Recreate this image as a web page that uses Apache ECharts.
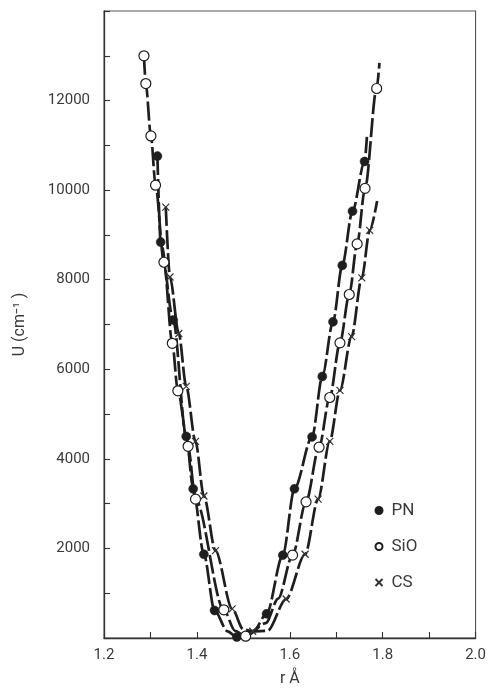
<!DOCTYPE html>
<html>
<head>
<meta charset="utf-8">
<script src="https://cdn.jsdelivr.net/npm/echarts@6/dist/echarts.min.js"></script>
<style>
html,body{margin:0;padding:0;background:#fff;}
#chart{width:489px;height:692px;}
</style>
</head>
<body>
<div id="chart"></div>
<script>
// ---- data (r in Å, U in cm^-1) ----
var seriesNames = ['PN', 'SiO', 'CS'];
var pnPoints = [[1.315,10760],[1.322,8840],[1.349,7100],[1.377,4500],[1.392,3330],[1.415,1870],[1.438,615],[1.486,20],[1.550,540],[1.585,1850],[1.610,3330],[1.648,4490],[1.670,5840],[1.693,7060],[1.713,8320],[1.735,9530],[1.761,10640]];
var sioPoints = [[1.286,13000],[1.290,12380],[1.301,11210],[1.311,10110],[1.329,8390],[1.347,6580],[1.359,5520],[1.381,4280],[1.397,3100],[1.458,630],[1.505,40],[1.606,1850],[1.635,3040],[1.663,4260],[1.686,5370],[1.708,6590],[1.728,7670],[1.745,8800],[1.762,10040],[1.787,12270]];
var csPoints = [[1.333,9620],[1.342,8060],[1.361,6800],[1.377,5620],[1.397,4390],[1.415,3170],[1.440,1950],[1.476,650],[1.520,150],[1.592,870],[1.633,1870],[1.661,3100],[1.686,4390],[1.708,5530],[1.733,6730],[1.755,8040],[1.772,9100]];
// curve positions (ends and bottom of each well)
var pnCurveExtra = [[1.466,150],[1.522,160],[1.766,11190]];
var sioCurveExtra = [[1.482,160],[1.548,330],[1.575,880],[1.793,12840]];
var csCurveExtra = [[1.500,190],[1.552,160],[1.788,9760]];
var xTicks = [1.2, 1.4, 1.6, 1.8, 2.0];
var yTicks = [2000, 4000, 6000, 8000, 10000, 12000];

function curve(points, extra) {
  return points.concat(extra).sort(function (a, b) { return a[0] - b[0]; });
}

var ink = '#1e1e1e';
var txt = '#3a3a3a';
var font = 'Roboto';

var chart = echarts.init(document.getElementById('chart'));
var lineStyle = { color: ink, width: 2.7, type: [19, 4] };

chart.setOption({
  backgroundColor: '#fff',
  animation: false,
  textStyle: { fontFamily: font },
  grid: { left: 104, right: 12, top: 11, bottom: 51, show: true, borderColor: '#555', borderWidth: 1.1, backgroundColor: 'transparent' },
  legend: {
    data: seriesNames,
    orient: 'vertical',
    left: 368,
    top: 497,
    itemWidth: 7,
    itemHeight: 7,
    itemGap: 19,
    textStyle: { fontSize: 17, color: txt, fontFamily: font, padding: [0, 0, 0, 4] }
  },
  xAxis: {
    type: 'value', min: 1.2, max: 2.0, interval: 0.2,
    name: 'r Å', nameLocation: 'middle', nameGap: 33,
    nameTextStyle: { fontSize: 16, color: txt },
    axisLine: { show: true, lineStyle: { color: '#333', width: 1.3 } },
    axisTick: { show: true, inside: true, length: 6, lineStyle: { color: '#333', width: 1.1 } },
    minorTick: { show: true, splitNumber: 2, length: 6, lineStyle: { color: '#333', width: 1.1 } },
    splitLine: { show: false },
    axisLabel: {
      fontSize: 15, color: txt, margin: 10,
      formatter: function (v) { return xTicks.indexOf(Math.round(v * 10) / 10) >= 0 ? v.toFixed(1) : ''; }
    }
  },
  yAxis: {
    type: 'value', min: 0, max: 14000, interval: 2000,
    name: 'U (cm⁻¹ )', nameLocation: 'middle', nameGap: 76, nameRotate: 90,
    nameTextStyle: { fontSize: 16, color: txt },
    axisLine: { show: true, lineStyle: { color: '#333', width: 1.3 } },
    axisTick: { show: true, inside: true, length: 6, lineStyle: { color: '#333', width: 1.1 } },
    minorTick: { show: true, splitNumber: 2, length: 6, lineStyle: { color: '#333', width: 1.1 } },
    splitLine: { show: false },
    axisLabel: {
      fontSize: 15, color: txt, margin: 14,
      formatter: function (v) { return yTicks.indexOf(v) >= 0 ? String(v) : ''; }
    }
  },
  series: [
    { name: 'PN curve', type: 'line', data: curve(pnPoints, pnCurveExtra), smooth: 0.3, smoothMonotone: 'x', showSymbol: false, lineStyle: lineStyle, z: 2 },
    { name: 'SiO curve', type: 'line', data: curve(sioPoints, sioCurveExtra), smooth: 0.3, smoothMonotone: 'x', showSymbol: false, lineStyle: lineStyle, z: 2 },
    { name: 'CS curve', type: 'line', data: curve(csPoints, csCurveExtra), smooth: 0.3, smoothMonotone: 'x', showSymbol: false, lineStyle: lineStyle, z: 2 },
    { name: 'PN', type: 'scatter', data: pnPoints, symbol: 'circle', symbolSize: 9,
      itemStyle: { color: ink, borderColor: ink, borderWidth: 0.5, opacity: 1 }, z: 5 },
    { name: 'SiO', type: 'scatter', data: sioPoints, symbol: 'circle', symbolSize: 10,
      itemStyle: { color: '#fff', borderColor: ink, borderWidth: 1.2, opacity: 1 }, z: 6 },
    { name: 'CS', type: 'scatter', data: csPoints, symbol: 'path://M0,0L10,10M10,0L0,10', symbolSize: 7,
      itemStyle: { color: 'none', borderColor: '#333', borderWidth: 1.2, opacity: 1 }, z: 6 }
  ]
});
</script>
</body>
</html>
